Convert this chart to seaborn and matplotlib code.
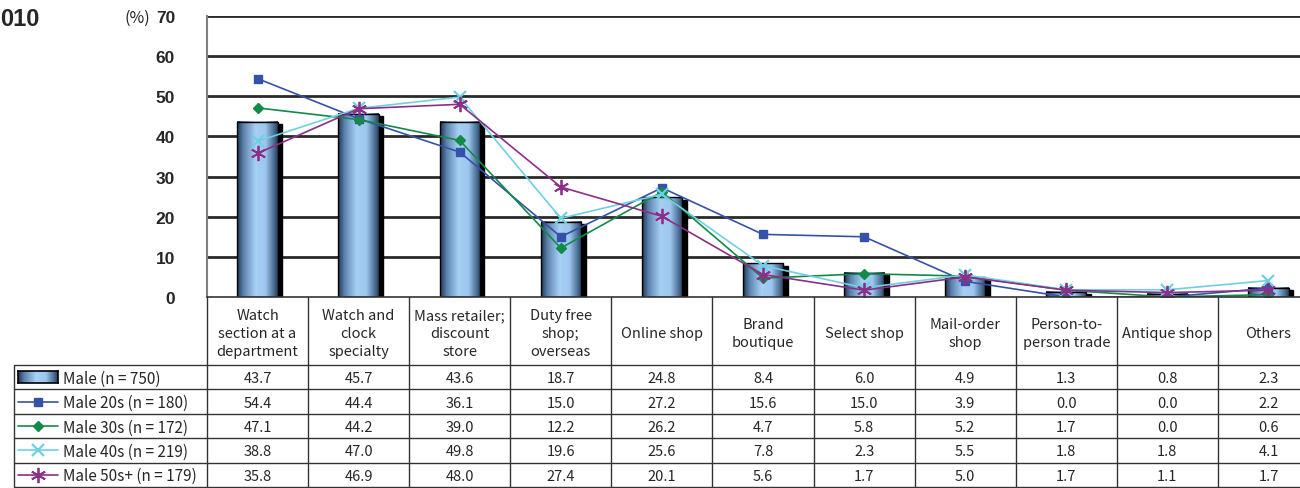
import numpy as np
import pandas as pd
import seaborn as sns
import matplotlib.pyplot as plt
from matplotlib.lines import Line2D
from matplotlib.patches import Rectangle
from matplotlib.colors import LinearSegmentedColormap

categories = ["Watch\nsection at a\ndepartment", "Watch and\nclock\nspecialty", "Mass retailer;\ndiscount\nstore",
              "Duty free\nshop;\noverseas", "Online shop", "Brand\nboutique", "Select shop", "Mail-order\nshop",
              "Person-to-\nperson trade", "Antique shop", "Others"]
male_all = [43.7, 45.7, 43.6, 18.7, 24.8, 8.4, 6.0, 4.9, 1.3, 0.8, 2.3]
male_20s = [54.4, 44.4, 36.1, 15.0, 27.2, 15.6, 15.0, 3.9, 0.0, 0.0, 2.2]
male_30s = [47.1, 44.2, 39.0, 12.2, 26.2, 4.7, 5.8, 5.2, 1.7, 0.0, 0.6]
male_40s = [38.8, 47.0, 49.8, 19.6, 25.6, 7.8, 2.3, 5.5, 1.8, 1.8, 4.1]
male_50s = [35.8, 46.9, 48.0, 27.4, 20.1, 5.6, 1.7, 5.0, 1.7, 1.1, 1.7]
series_labels = ["Male (n = 750)", "Male 20s (n = 180)", "Male 30s (n = 172)",
                 "Male 40s (n = 219)", "Male 50s+ (n = 179)"]

W, H = 1300, 489
def fx(x):
    return x / W
def fy(y):
    return 1 - y / H

sns.set_style("white")
plt.rcParams['font.family'] = ['Noto Sans CJK JP', 'DejaVu Sans']

fig = plt.figure(figsize=(13, 4.89), dpi=100)

# plot area (cropped on the right like the original)
x_left, x_right, y_top, y_bot = 207, 1319, 17, 298
ax = fig.add_axes([fx(x_left), fy(y_bot), fx(x_right) - fx(x_left), fy(y_top) - fy(y_bot)])

n = len(categories)
pos = np.arange(n)
df = pd.DataFrame({"cat": categories, "value": male_all})
sns.barplot(data=df, x="cat", y="value", width=0.4, color="#8fb8e0", ax=ax, zorder=2)

# cylinder-like gradient + drop shadow for the bars
cmap = LinearSegmentedColormap.from_list("cyl", [(0, "#203654"), (0.15, "#5a82ac"), (0.45, "#a8d0f5"),
                                                  (0.7, "#9cc6ee"), (0.9, "#4e7298"), (1, "#283e5a")])
grad = np.linspace(0, 1, 64).reshape(1, -1)
for p in list(ax.patches):
    x0, w, h = p.get_x(), p.get_width(), p.get_height()
    ax.add_patch(Rectangle((x0 + 0.045, 0), w, max(h - 0.6, 0), color="black", zorder=1.5))
    ax.imshow(grad, cmap=cmap, aspect="auto", extent=[x0, x0 + w, 0, h], zorder=2.1)
    p.set_facecolor("none")
    p.set_edgecolor("black")
    p.set_linewidth(1.0)
    p.set_zorder(2.2)

line_styles = [
    (male_20s, "#3652a8", "s", 6, 1.0),
    (male_30s, "#13894a", "D", 5.5, 1.0),
    (male_40s, "#6fd0e2", "x", 8, 1.6),
    (male_50s, "#8b2f88", (6, 2, 0), 11, 1.3),
]
for vals, col, mk, ms, mew in line_styles:
    sns.lineplot(x=pos, y=vals, color=col, marker=mk, markersize=ms, markeredgecolor=col,
                 markeredgewidth=mew, linewidth=1.2, ax=ax, zorder=3)

ax.set_xlim(-0.5, n - 0.5)
ax.set_ylim(0, 70)
ax.set_yticks(range(0, 71, 10))
ax.set_yticklabels([str(v) for v in range(0, 71, 10)], fontsize=12.5, fontweight="bold",
                   family="Liberation Sans")
ax.tick_params(axis="y", length=3, pad=20, color="#555555")
ax.set_xticks([])
ax.set_xlabel("")
ax.set_ylabel("")
ax.grid(False)
for v in range(10, 71, 10):
    ax.axhline(v, color="#2a2a2a", lw=2.0, zorder=1)
for s in ["top", "right", "bottom"]:
    ax.spines[s].set_visible(False)
ax.spines["left"].set_color("#808080")
ax.spines["left"].set_linewidth(1.5)

fig.text(fx(124), fy(18), "(%)", fontsize=11.5, va="center", ha="left")
fig.text(fx(0), fy(20), "010", fontsize=17, fontweight="bold", va="center", ha="left",
         family="Liberation Sans")

# data table below the chart
col_w = (x_right - x_left) / n
header_bot = 366
row_h = 24.4
rows_y = [header_bot + i * row_h for i in range(6)]
lc = "#333333"

def hline(y, xa, xb, lw=1.0):
    fig.add_artist(Line2D([fx(xa), fx(xb)], [fy(y), fy(y)], color=lc, lw=lw))

def vline(x, ya, yb, lw=1.0):
    fig.add_artist(Line2D([fx(x), fx(x)], [fy(ya), fy(yb)], color=lc, lw=lw))

hline(y_bot, x_left, x_right, 1.2)
for y in rows_y:
    hline(y, 14, x_right)
vline(14, header_bot, rows_y[-1])
vline(x_left, y_bot, rows_y[-1])
for i in range(1, n + 1):
    vline(x_left + i * col_w, y_bot, rows_y[-1])

for i, cat in enumerate(categories):
    cx = x_left + (i + 0.5) * col_w
    fig.text(fx(cx), fy((y_bot + header_bot) / 2 + 2), cat, ha="center", va="center",
             fontsize=10.5, linespacing=1.38)

all_series = [male_all, male_20s, male_30s, male_40s, male_50s]
for r, (lab, vals) in enumerate(zip(series_labels, all_series)):
    cy = rows_y[r] + row_h / 2
    fig.text(fx(63), fy(cy + 1), lab, ha="left", va="center", fontsize=11)
    for i, v in enumerate(vals):
        cx = x_left + (i + 0.5) * col_w
        fig.text(fx(cx), fy(cy + 1), f"{v:.1f}", ha="center", va="center", fontsize=10.5)

# legend keys in the table
key_ax = fig.add_axes([fx(18), fy(rows_y[0] + 18), fx(58) - fx(18), (18 - 6) / H])
key_ax.imshow(grad, cmap=cmap, aspect="auto", extent=[0, 1, 0, 1])
key_ax.set_xticks([])
key_ax.set_yticks([])
for s in key_ax.spines.values():
    s.set_color("black")
    s.set_linewidth(1.2)

for r, (vals, col, mk, ms, mew) in enumerate(line_styles, start=1):
    cy = rows_y[r] + row_h / 2
    fig.add_artist(Line2D([fx(18), fx(58)], [fy(cy), fy(cy)], color=col, lw=1.2))
    fig.add_artist(Line2D([fx(38)], [fy(cy)], color=col, marker=mk, markersize=ms,
                          markeredgecolor=col, markeredgewidth=mew, lw=0))

fig.savefig("out.png", dpi=100)
